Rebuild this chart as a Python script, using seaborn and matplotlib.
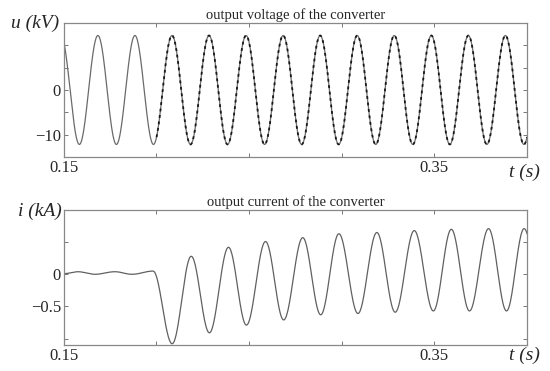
import numpy as np
import pandas as pd
import matplotlib
matplotlib.use('Agg')
import matplotlib.pyplot as plt
import seaborn as sns

# voltage extrema (time in s, value in kV)
u_ext_t = [0.1484, 0.1584, 0.1684, 0.1784, 0.1884, 0.1984, 0.2084, 0.2184,
           0.2284, 0.2384, 0.2484, 0.2584, 0.2684, 0.2784, 0.2884, 0.2984,
           0.3084, 0.3184, 0.3284, 0.3384, 0.3484, 0.3584, 0.3684, 0.3784,
           0.3884, 0.3984, 0.4084]
u_ext_v = [12.2, -12.2, 12.2, -12.2, 12.2, -12.2, 12.2, -12.2,
           12.2, -12.2, 12.2, -12.2, 12.2, -12.2, 12.2, -12.2,
           12.2, -12.2, 12.2, -12.2, 12.2, -12.2, 12.2, -12.2,
           12.2, -12.2, 12.2]
u_ripple_start = 0.200

# current extrema (time in s, value in kA)
i_ext_t = [0.1500, 0.1576, 0.1668, 0.1776, 0.1868, 0.1982, 0.2085, 0.2188,
           0.2286, 0.2389, 0.2486, 0.2589, 0.2687, 0.2790, 0.2887, 0.2985,
           0.3088, 0.3190, 0.3289, 0.3392, 0.3495, 0.3592, 0.3690, 0.3793,
           0.3890, 0.3985, 0.4085]
i_ext_v = [0.01, 0.04, 0.00, 0.04, 0.00, 0.05, -1.08, 0.28,
           -0.91, 0.42, -0.79, 0.51, -0.71, 0.57, -0.63, 0.63,
           -0.61, 0.65, -0.59, 0.68, -0.57, 0.70, -0.57, 0.71,
           -0.57, 0.71, -0.57]

x_ticks = [0.15, 0.20, 0.25, 0.30, 0.35, 0.40]
x_labels = ['0.15', '', '', '', '0.35', '']
u_ticks = [-10, -5, 0, 5, 10]
u_labels = ['\u221210', '', '0', '', '']
i_ticks = [-1.0, -0.5, 0, 0.5]
i_labels = ['', '\u22120.5', '0', '']


def wave(ext_t, ext_v, n=60):
    """Join successive extrema with half-cosine arcs."""
    ts, vs = [], []
    for k in range(len(ext_t) - 1):
        t0, t1 = ext_t[k], ext_t[k + 1]
        v0, v1 = ext_v[k], ext_v[k + 1]
        tt = np.linspace(t0, t1, n, endpoint=False)
        ph = np.pi * (tt - t0) / (t1 - t0)
        ts.append(tt)
        vs.append((v0 + v1) / 2 + (v0 - v1) / 2 * np.cos(ph))
    return np.concatenate(ts), np.concatenate(vs)


t_u, v_u = wave(u_ext_t, u_ext_v)
t_i, v_i = wave(i_ext_t, i_ext_v)
df_u = pd.DataFrame({'t': t_u, 'u': v_u})
df_r = df_u[df_u['t'] >= u_ripple_start]
df_i = pd.DataFrame({'t': t_i, 'i': v_i})

sns.set_style('ticks')
plt.rcParams['font.family'] = ['Liberation Serif', 'DejaVu Serif']

fig = plt.figure(figsize=(5.5, 3.71), dpi=100)
ax1 = fig.add_axes([0.116, 0.577, 0.842, 0.361])
ax2 = fig.add_axes([0.116, 0.070, 0.842, 0.364])

sns.lineplot(data=df_u, x='t', y='u', ax=ax1, color='#6a6a6a',
             linewidth=0.9, estimator=None, sort=False)
sns.lineplot(data=df_r, x='t', y='u', ax=ax1, color='#1a1a1a',
             linewidth=1.3, estimator=None, sort=False,
             dashes=False, linestyle=(0, (1.6, 2.0)))
sns.lineplot(data=df_i, x='t', y='i', ax=ax2, color='#606060',
             linewidth=0.9, estimator=None, sort=False)

ax1.set_ylim(-15, 15)
ax2.set_ylim(-1.1, 1.0)
ax1.set_yticks(u_ticks)
ax1.set_yticklabels(u_labels)
ax2.set_yticks(i_ticks)
ax2.set_yticklabels(i_labels)

for ax, title in [(ax1, 'output voltage of the converter'),
                  (ax2, 'output current of the converter')]:
    ax.set_xlim(0.15, 0.40)
    ax.set_xticks(x_ticks)
    ax.set_xticklabels(x_labels)
    ax.set_xlabel('')
    ax.set_ylabel('')
    ax.set_title(title, fontsize=10.5, pad=3)
    ax.tick_params(direction='in', length=3, width=0.7, color='#777777',
                   top=True, right=True, labelsize=12, pad=2)
    for s in ax.spines.values():
        s.set_color('#888888')
        s.set_linewidth(0.9)

fig.text(0.02, 0.938, 'u (kV)', fontsize=14, style='italic', va='center')
fig.text(0.033, 0.431, 'i (kA)', fontsize=14, style='italic', va='center')
fig.text(0.925, 0.536, 't (s)', fontsize=14, style='italic', va='center')
fig.text(0.925, 0.043, 't (s)', fontsize=14, style='italic', va='center')

plt.savefig('out.png', dpi=100)
